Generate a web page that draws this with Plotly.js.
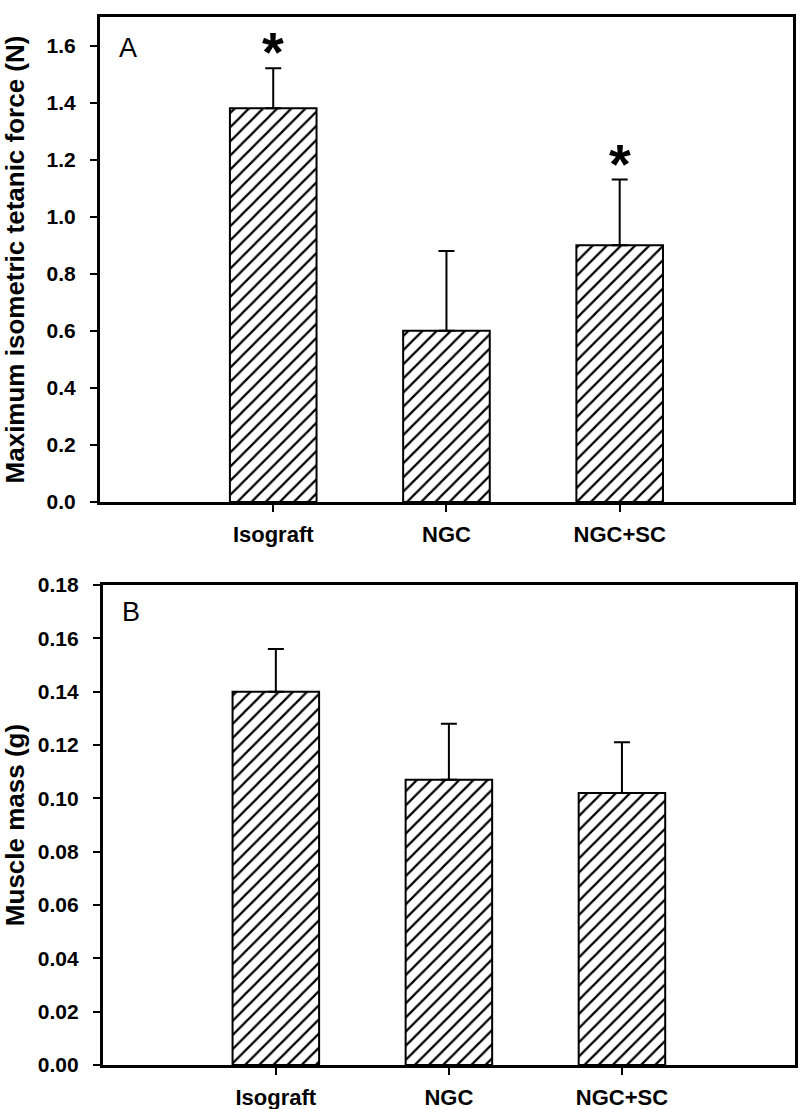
<!DOCTYPE html>
<html>
<head>
<meta charset="utf-8">
<script src="https://cdn.plot.ly/plotly-3.0.1.min.js"></script>
<style>html,body{margin:0;padding:0;background:#fff;}#chart{width:800px;height:1109px;}</style>
</head>
<body>
<div id="chart"></div>
<script>
var categories = ["Isograft", "NGC", "NGC+SC"];
var forceValues = [1.38, 0.60, 0.90];
var forceErrors = [0.14, 0.28, 0.23];
var forceSig = ["*", "", "*"];
var massValues = [0.140, 0.107, 0.102];
var massErrors = [0.016, 0.021, 0.019];
var forceTicks = [0, 0.2, 0.4, 0.6, 0.8, 1.0, 1.2, 1.4, 1.6];
var massTicks = [0, 0.02, 0.04, 0.06, 0.08, 0.10, 0.12, 0.14, 0.16, 0.18];

var FONT = "Liberation Sans, Arial, sans-serif";

function barTrace(vals, errs, xa, ya) {
  return {
    type: "bar", x: categories, y: vals, xaxis: xa, yaxis: ya, width: 0.5,
    marker: { color: "white", line: { color: "black", width: 2 },
      pattern: { shape: "/", fgcolor: "black", bgcolor: "white", size: 10, solidity: 0.22 } },
    error_y: { type: "data", array: errs, symmetric: false, arrayminus: errs.map(function(){return 0;}),
      color: "black", thickness: 2, width: 8 },
    showlegend: false, hoverinfo: "skip"
  };
}

var data = [barTrace(forceValues, forceErrors, "x", "y"), barTrace(massValues, massErrors, "x2", "y2")];

function xAxis(dom, anchor) {
  return { domain: dom, anchor: anchor, type: "category", range: [-1, 3], showline: true, linewidth: 3,
    linecolor: "black", mirror: true, ticks: "outside", ticklen: 7, tickwidth: 2, tickcolor: "black",
    showgrid: false, zeroline: false, ticklabelstandoff: 4,
    tickfont: { family: FONT, size: 22, color: "black", weight: "bold" } };
}
function yAxis(dom, anchor, range, ticks, fmt, title, standoff) {
  return { domain: dom, anchor: anchor, range: range, tickvals: ticks, tickformat: fmt, showline: true,
    linewidth: 3, linecolor: "black", mirror: true, ticks: "outside", ticklen: 7, tickwidth: 2,
    tickcolor: "black", showgrid: false, zeroline: false, ticklabelstandoff: 10,
    tickfont: { family: FONT, size: 21, color: "black", weight: "bold" },
    title: { text: title, font: { family: FONT, size: 26, color: "black", weight: "bold" }, standoff: standoff } };
}

var annotations = [
  { xref: "x domain", yref: "y domain", x: 0.025, y: 0.936, xanchor: "left", yanchor: "middle", text: "A",
    showarrow: false, font: { family: FONT, size: 27, color: "black" } },
  { xref: "x2 domain", yref: "y2 domain", x: 0.025, y: 0.944, xanchor: "left", yanchor: "middle", text: "B",
    showarrow: false, font: { family: FONT, size: 27, color: "black" } }
];
forceSig.forEach(function (s, i) {
  if (!s) return;
  annotations.push({ xref: "x", yref: "y", x: categories[i], y: forceValues[i] + forceErrors[i] - 0.06,
    xanchor: "center", yanchor: "bottom", text: s, showarrow: false,
    font: { family: FONT, size: 56, color: "black", weight: "bold" } });
});

var layout = {
  width: 800, height: 1109, paper_bgcolor: "white", plot_bgcolor: "white",
  margin: { l: 100, r: 5, t: 17, b: 44 },
  xaxis: xAxis([0, 0.997], "y"),
  yaxis: yAxis([0.5372, 1], "x", [0, 1.7], forceTicks, ".1f", "Maximum isometric tetanic force (N)", 19),
  xaxis2: xAxis([0.004, 1], "y2"),
  yaxis2: yAxis([0, 0.458], "x2", [0, 0.18], massTicks, ".2f", "Muscle mass (g)", 11),
  annotations: annotations
};

Plotly.newPlot("chart", data, layout, { displayModeBar: false, staticPlot: true });
</script>
</body>
</html>
